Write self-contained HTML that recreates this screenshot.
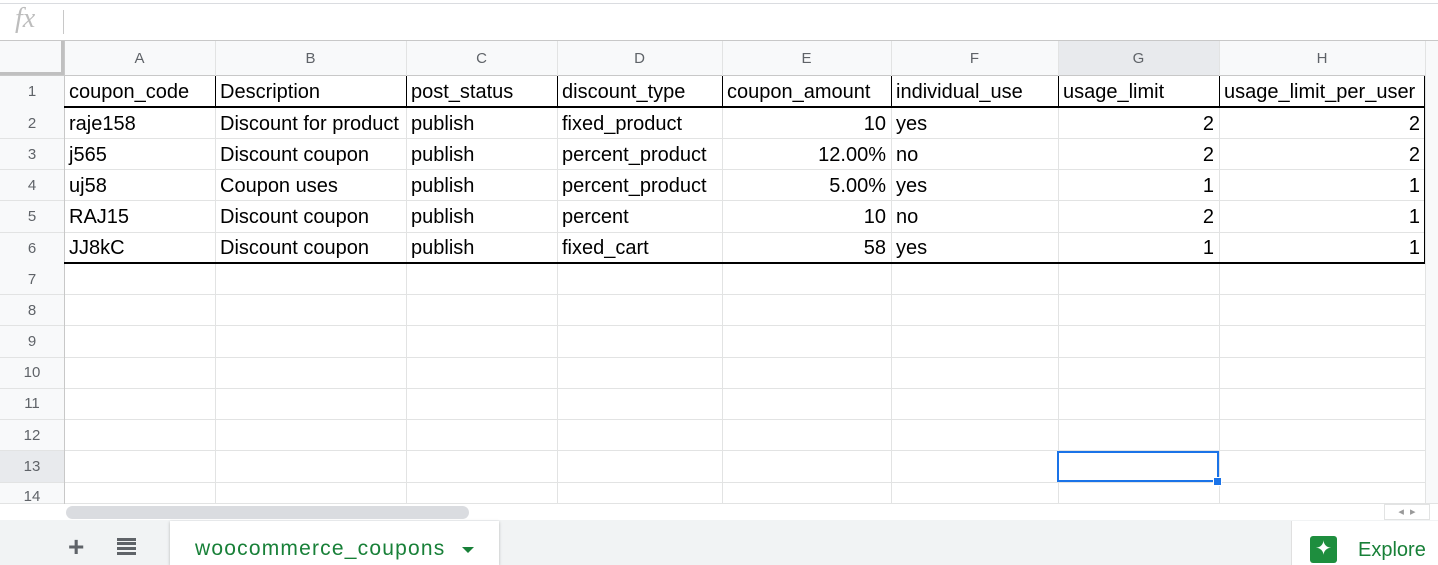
<!DOCTYPE html>
<html><head><meta charset="utf-8"><style>
*{margin:0;padding:0;box-sizing:border-box}
body{width:1438px;height:565px;overflow:hidden;background:#fff;font-family:"Liberation Sans",Arial,sans-serif;position:relative}
.a{position:absolute}
.h{background:#e2e3e3;position:absolute}
.v{width:1px;position:absolute}
.hd{position:absolute;color:#5f6368;font-size:15px;text-align:center;line-height:35px;top:41px;height:35px}
.rn{position:absolute;left:0;width:64px;color:#5f6368;font-size:15px;text-align:center;height:31px;line-height:31px}
.c{position:absolute;font-size:20px;color:#000;height:31px;line-height:33px;white-space:nowrap;overflow:hidden;padding:0 5px}
.r{text-align:right}
</style></head><body>
<div class="a" style="left:0;top:3px;width:1438px;height:1px;background:#dadce0"></div>
<div class="a" style="left:15px;top:3px;font-family:'Liberation Serif',serif;font-style:italic;font-size:28px;color:#bdbdbd">fx</div>
<div class="a" style="left:63px;top:10px;width:1px;height:24px;background:#c8c8c8"></div>
<div class="a" style="left:0;top:40px;width:1438px;height:1px;background:#c8c8c8"></div>
<div class="a" style="left:0;top:41px;width:1438px;height:35px;background:#f8f9fa"></div>
<div class="a" style="left:1058px;top:41px;width:161px;height:35px;background:#e8eaed"></div>
<div class="a" style="left:0;top:76px;width:64px;height:428px;background:#f8f9fa"></div>
<div class="a" style="left:0;top:451px;width:64px;height:31px;background:#e8eaed"></div>
<div class="a" style="left:61px;top:41px;width:4px;height:35px;background:#c0c0c0"></div>
<div class="a" style="left:0;top:72px;width:64px;height:4px;background:#c0c0c0"></div>
<div class="a" style="left:1425px;top:41px;width:13px;height:463px;background:#f8f9fa;border-left:1px solid #e2e3e3"></div>
<div class="hd" style="left:64px;width:151px">A</div>
<div class="hd" style="left:215px;width:191px">B</div>
<div class="hd" style="left:406px;width:151px">C</div>
<div class="hd" style="left:557px;width:165px">D</div>
<div class="hd" style="left:722px;width:169px">E</div>
<div class="hd" style="left:891px;width:167px">F</div>
<div class="hd" style="left:1058px;width:161px">G</div>
<div class="hd" style="left:1219px;width:206px">H</div>
<div class="h" style="left:0;top:75px;width:1425px;height:1px;background:#c8c8c8"></div>
<div class="h" style="left:0;top:138px;width:1425px;height:1px"></div>
<div class="h" style="left:0;top:169px;width:1425px;height:1px"></div>
<div class="h" style="left:0;top:200px;width:1425px;height:1px"></div>
<div class="h" style="left:0;top:232px;width:1425px;height:1px"></div>
<div class="h" style="left:0;top:294px;width:1425px;height:1px"></div>
<div class="h" style="left:0;top:325px;width:1425px;height:1px"></div>
<div class="h" style="left:0;top:357px;width:1425px;height:1px"></div>
<div class="h" style="left:0;top:388px;width:1425px;height:1px"></div>
<div class="h" style="left:0;top:419px;width:1425px;height:1px"></div>
<div class="h" style="left:0;top:450px;width:1425px;height:1px"></div>
<div class="h" style="left:0;top:482px;width:1425px;height:1px"></div>
<div class="h" style="left:0;top:503px;width:1438px;height:1px"></div>
<div class="v" style="left:64px;top:41px;height:463px;background:#c8c8c8"></div>
<div class="v" style="left:215px;top:41px;height:463px;background:#e2e3e3"></div>
<div class="v" style="left:406px;top:41px;height:463px;background:#e2e3e3"></div>
<div class="v" style="left:557px;top:41px;height:463px;background:#e2e3e3"></div>
<div class="v" style="left:722px;top:41px;height:463px;background:#e2e3e3"></div>
<div class="v" style="left:891px;top:41px;height:463px;background:#e2e3e3"></div>
<div class="v" style="left:1058px;top:41px;height:463px;background:#e2e3e3"></div>
<div class="v" style="left:1219px;top:41px;height:463px;background:#e2e3e3"></div>
<div class="v" style="left:1425px;top:41px;height:463px;background:#e2e3e3"></div>
<div class="v" style="left:215px;top:76px;height:31px;background:#000"></div>
<div class="v" style="left:406px;top:76px;height:31px;background:#000"></div>
<div class="v" style="left:557px;top:76px;height:31px;background:#000"></div>
<div class="v" style="left:722px;top:76px;height:31px;background:#000"></div>
<div class="v" style="left:891px;top:76px;height:31px;background:#000"></div>
<div class="v" style="left:1058px;top:76px;height:31px;background:#000"></div>
<div class="v" style="left:1219px;top:76px;height:31px;background:#000"></div>
<div class="v" style="left:1424px;top:76px;height:187px;background:#000"></div>
<div class="a" style="left:64px;top:106px;width:1361px;height:2px;background:#000"></div>
<div class="a" style="left:64px;top:262px;width:1361px;height:2px;background:#000"></div>
<div class="rn" style="top:76px">1</div>
<div class="rn" style="top:108px">2</div>
<div class="rn" style="top:139px">3</div>
<div class="rn" style="top:170px">4</div>
<div class="rn" style="top:201px">5</div>
<div class="rn" style="top:233px">6</div>
<div class="rn" style="top:264px">7</div>
<div class="rn" style="top:295px">8</div>
<div class="rn" style="top:326px">9</div>
<div class="rn" style="top:357px">10</div>
<div class="rn" style="top:388px">11</div>
<div class="rn" style="top:420px">12</div>
<div class="rn" style="top:451px">13</div>
<div class="rn" style="top:483px;height:21px;line-height:28px;overflow:hidden">14</div>
<div class="c" style="left:64px;top:76px;width:151px">coupon_code</div>
<div class="c" style="left:215px;top:76px;width:191px">Description</div>
<div class="c" style="left:406px;top:76px;width:151px">post_status</div>
<div class="c" style="left:557px;top:76px;width:165px">discount_type</div>
<div class="c" style="left:722px;top:76px;width:169px">coupon_amount</div>
<div class="c" style="left:891px;top:76px;width:167px">individual_use</div>
<div class="c" style="left:1058px;top:76px;width:161px">usage_limit</div>
<div class="c" style="left:1219px;top:76px;width:206px">usage_limit_per_user</div>
<div class="c" style="left:64px;top:108px;width:151px">raje158</div>
<div class="c" style="left:215px;top:108px;width:191px">Discount for product</div>
<div class="c" style="left:406px;top:108px;width:151px">publish</div>
<div class="c" style="left:557px;top:108px;width:165px">fixed_product</div>
<div class="c r" style="left:722px;top:108px;width:169px">10</div>
<div class="c" style="left:891px;top:108px;width:167px">yes</div>
<div class="c r" style="left:1058px;top:108px;width:161px">2</div>
<div class="c r" style="left:1219px;top:108px;width:206px">2</div>
<div class="c" style="left:64px;top:139px;width:151px">j565</div>
<div class="c" style="left:215px;top:139px;width:191px">Discount coupon</div>
<div class="c" style="left:406px;top:139px;width:151px">publish</div>
<div class="c" style="left:557px;top:139px;width:165px">percent_product</div>
<div class="c r" style="left:722px;top:139px;width:169px">12.00%</div>
<div class="c" style="left:891px;top:139px;width:167px">no</div>
<div class="c r" style="left:1058px;top:139px;width:161px">2</div>
<div class="c r" style="left:1219px;top:139px;width:206px">2</div>
<div class="c" style="left:64px;top:170px;width:151px">uj58</div>
<div class="c" style="left:215px;top:170px;width:191px">Coupon uses</div>
<div class="c" style="left:406px;top:170px;width:151px">publish</div>
<div class="c" style="left:557px;top:170px;width:165px">percent_product</div>
<div class="c r" style="left:722px;top:170px;width:169px">5.00%</div>
<div class="c" style="left:891px;top:170px;width:167px">yes</div>
<div class="c r" style="left:1058px;top:170px;width:161px">1</div>
<div class="c r" style="left:1219px;top:170px;width:206px">1</div>
<div class="c" style="left:64px;top:201px;width:151px">RAJ15</div>
<div class="c" style="left:215px;top:201px;width:191px">Discount coupon</div>
<div class="c" style="left:406px;top:201px;width:151px">publish</div>
<div class="c" style="left:557px;top:201px;width:165px">percent</div>
<div class="c r" style="left:722px;top:201px;width:169px">10</div>
<div class="c" style="left:891px;top:201px;width:167px">no</div>
<div class="c r" style="left:1058px;top:201px;width:161px">2</div>
<div class="c r" style="left:1219px;top:201px;width:206px">1</div>
<div class="c" style="left:64px;top:232px;width:151px">JJ8kC</div>
<div class="c" style="left:215px;top:232px;width:191px">Discount coupon</div>
<div class="c" style="left:406px;top:232px;width:151px">publish</div>
<div class="c" style="left:557px;top:232px;width:165px">fixed_cart</div>
<div class="c r" style="left:722px;top:232px;width:169px">58</div>
<div class="c" style="left:891px;top:232px;width:167px">yes</div>
<div class="c r" style="left:1058px;top:232px;width:161px">1</div>
<div class="c r" style="left:1219px;top:232px;width:206px">1</div>
<div class="a" style="left:1057px;top:451px;width:162px;height:31px;border:2px solid #1a73e8"></div>
<div class="a" style="left:1213px;top:477px;width:9px;height:9px;background:#1a73e8;border:1px solid #fff"></div>
<div class="a" style="left:64px;top:504px;width:1374px;height:16px;background:#fff"></div>
<div class="a" style="left:66px;top:506px;width:403px;height:13px;border-radius:7px;background:#dadce0"></div>
<div class="a" style="left:1384px;top:504px;width:46px;height:16px;border:1px solid #e2e3e3;font-size:11px;color:#999;line-height:14px;text-align:center">◂ &nbsp;▸</div>
<div class="a" style="left:0;top:520px;width:1438px;height:45px;background:#f1f3f4"></div>
<div class="a" style="left:68px;top:533px;font-size:28px;font-weight:bold;color:#5f6368;line-height:28px">+</div>
<div class="a" style="left:117px;top:542px;width:19px;height:3px;background:#5f6368;box-shadow:0 5px 0 #5f6368,0 10px 0 #5f6368,0 -4px 0 #5f6368"></div>
<div class="a" style="left:170px;top:521px;width:329px;height:44px;background:#fff;box-shadow:0 1px 3px rgba(0,0,0,.25)"></div>
<div class="a" style="left:195px;top:537px;font-size:21px;color:#188038;letter-spacing:1.2px">woocommerce_coupons</div>
<div class="a" style="left:462px;top:547px;width:0;height:0;border-left:6px solid transparent;border-right:6px solid transparent;border-top:6px solid #188038"></div>
<div class="a" style="left:1291px;top:521px;width:147px;height:44px;background:#fff;border-left:1px solid #e0e0e0"></div>
<div class="a" style="left:1310px;top:536px;width:27px;height:27px;background:#1e8e3e;border-radius:3px;color:#fff;font-size:20px;text-align:center;line-height:27px">✦</div>
<div class="a" style="left:1358px;top:539px;font-size:20px;color:#188038">Explore</div>
</body></html>
